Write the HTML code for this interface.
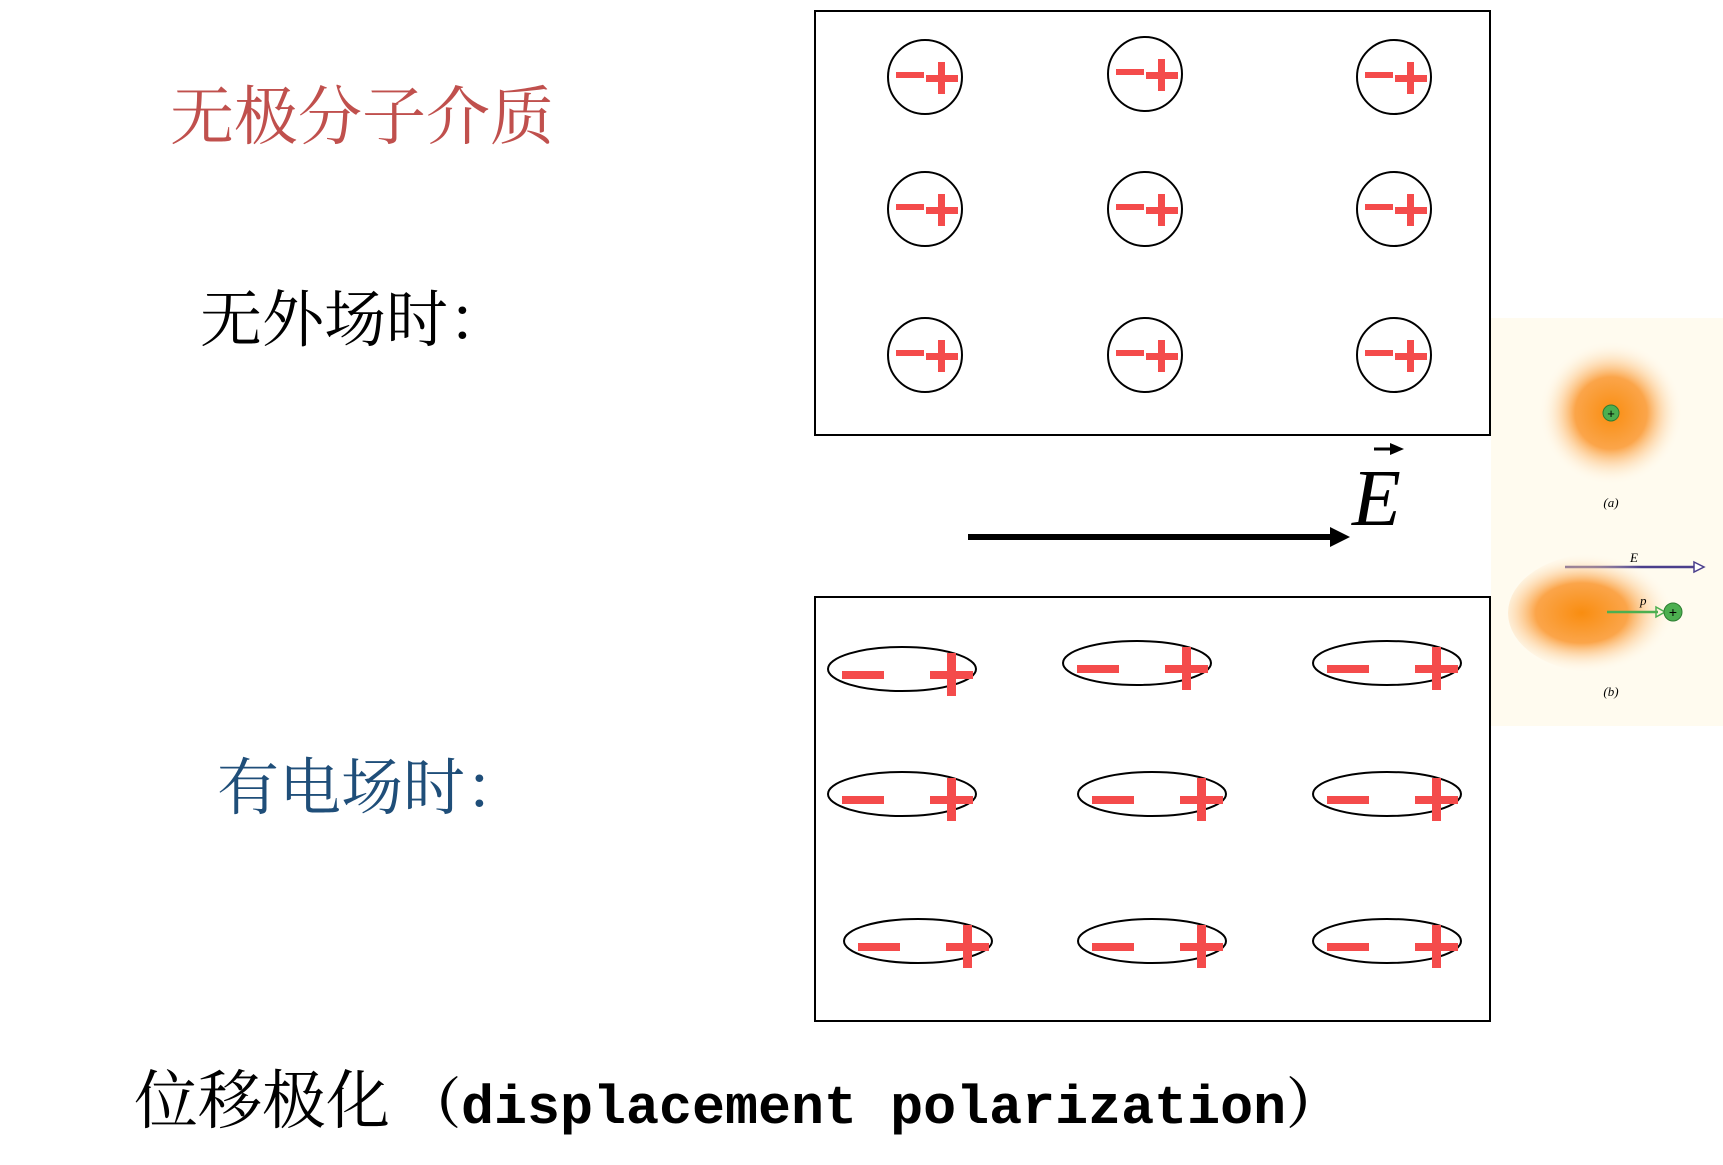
<!DOCTYPE html>
<html><head><meta charset="utf-8"><style>
html,body{margin:0;padding:0;background:#fff;}
body{width:1723px;height:1165px;position:relative;overflow:hidden;}
.t{position:absolute;font-family:"Liberation Serif","Noto Serif CJK SC",serif;white-space:nowrap;line-height:1;}
</style></head><body>
<div class="t" style="left:170px;top:86px;font-size:64px;color:#c0504d;">无极分子介质</div>
<div class="t" style="left:200px;top:290px;font-size:62px;color:#000;">无外场时：</div>
<div class="t" style="left:217px;top:758px;font-size:62px;color:#1f4e79;">有电场时：</div>
<div class="t" style="left:134px;top:1070px;font-size:64px;color:#000;">位移极化 <span style="font-family:'Liberation Mono','Noto Serif CJK SC',monospace;font-weight:bold;font-size:55px;">（displacement polarization）</span></div>
<svg width="1723" height="1165" style="position:absolute;left:0;top:0" xmlns="http://www.w3.org/2000/svg">
<defs>
<radialGradient id="g1"><stop offset="0" stop-color="#f98d10"/><stop offset="0.5" stop-color="#fba54a"/><stop offset="1" stop-color="#fffbef" stop-opacity="0"/></radialGradient>
<radialGradient id="g2" cx="0.4"><stop offset="0" stop-color="#f98d10"/><stop offset="0.5" stop-color="#fba54a"/><stop offset="1" stop-color="#fffbef" stop-opacity="0"/></radialGradient>
<g id="c"><ellipse cx="0" cy="0" rx="37" ry="37" fill="none" stroke="#000" stroke-width="2"/>
<rect x="-29" y="-5" width="28" height="6" fill="#f44b4b"/><rect x="1" y="-2" width="32" height="7" fill="#f44b4b"/><rect x="13" y="-15" width="7" height="32" fill="#f44b4b"/></g>
<g id="e"><ellipse cx="0" cy="0" rx="74" ry="22" fill="none" stroke="#000" stroke-width="2"/>
<rect x="-60" y="2" width="42" height="8" fill="#f44b4b"/><rect x="28" y="2" width="43" height="8" fill="#f44b4b"/><rect x="45" y="-16" width="9" height="43" fill="#f44b4b"/></g>
</defs>
<rect x="815" y="11" width="675" height="424" fill="none" stroke="#000" stroke-width="2"/>
<use href="#c" x="925" y="77"/><use href="#c" x="1145" y="74"/><use href="#c" x="1394" y="77"/>
<use href="#c" x="925" y="209"/><use href="#c" x="1145" y="209"/><use href="#c" x="1394" y="209"/>
<use href="#c" x="925" y="355"/><use href="#c" x="1145" y="355"/><use href="#c" x="1394" y="355"/>
<line x1="968" y1="537" x2="1335" y2="537" stroke="#000" stroke-width="6"/>
<polygon points="1330,527 1350,537 1330,547" fill="#000"/>
<text x="1352" y="525" font-family="Liberation Serif,serif" font-style="italic" font-size="80">E</text>
<line x1="1374" y1="449" x2="1398" y2="449" stroke="#000" stroke-width="3"/>
<polygon points="1390,443 1404,449 1390,455" fill="#000"/>
<rect x="815" y="597" width="675" height="424" fill="none" stroke="#000" stroke-width="2"/>
<use href="#e" x="902" y="669"/><use href="#e" x="1137" y="663"/><use href="#e" x="1387" y="663"/>
<use href="#e" x="902" y="794"/><use href="#e" x="1152" y="794"/><use href="#e" x="1387" y="794"/>
<use href="#e" x="918" y="941"/><use href="#e" x="1152" y="941"/><use href="#e" x="1387" y="941"/>
<rect x="1491" y="318" width="232" height="408" fill="#fffbef"/>
<circle cx="1611" cy="413" r="72" fill="url(#g1)"/>
<circle cx="1611" cy="413" r="8" fill="#4caf50" stroke="#2e7d32"/>
<text x="1611" y="418" text-anchor="middle" font-size="13" font-family="Liberation Sans">+</text>
<text x="1611" y="507" text-anchor="middle" font-size="13" font-style="italic" font-family="Liberation Serif">(a)</text>
<line x1="1565" y1="567" x2="1695" y2="567" stroke="#4b3f8c" stroke-width="2.5"/>
<polygon points="1694,562 1704,567 1694,572" fill="#fff" stroke="#4b3f8c" stroke-width="1.5"/>
<text x="1630" y="562" font-size="13" font-style="italic" font-family="Liberation Serif">E</text>
<ellipse cx="1600" cy="613" rx="92" ry="60" fill="url(#g2)"/>
<line x1="1607" y1="612" x2="1658" y2="612" stroke="#4caf50" stroke-width="2.5"/>
<polygon points="1656,607 1665,612 1656,617" fill="none" stroke="#4caf50" stroke-width="1.5"/>
<text x="1640" y="605" font-size="13" font-style="italic" font-family="Liberation Serif">p</text>
<circle cx="1673" cy="612" r="9" fill="#4caf50" stroke="#2e7d32"/>
<text x="1673" y="617" text-anchor="middle" font-size="14" font-family="Liberation Sans">+</text>
<text x="1611" y="696" text-anchor="middle" font-size="13" font-style="italic" font-family="Liberation Serif">(b)</text>
</svg>
</body></html>
